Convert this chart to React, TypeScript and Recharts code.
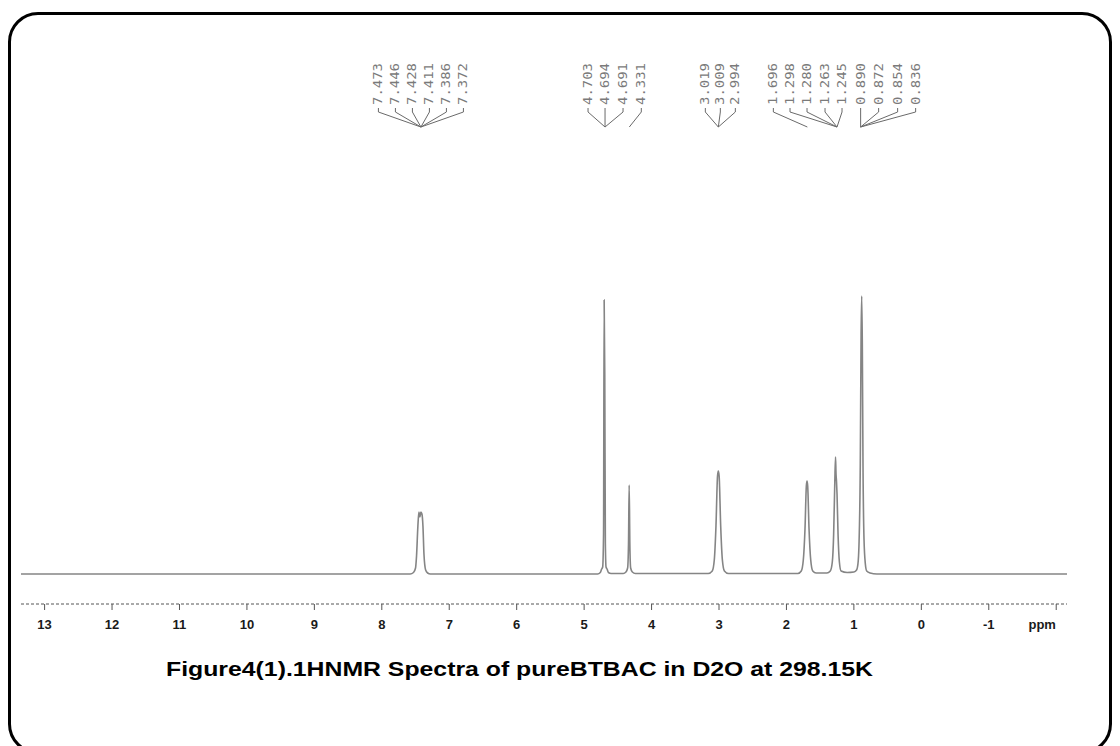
import React from "react";
import { LineChart, Line, XAxis, YAxis, ReferenceDot } from "recharts";

// spectrum points (ppm, intensity), high ppm first
const PPM = [
  13.35, 7.58, 7.53, 7.5, 7.485, 7.465, 7.45, 7.435, 7.42, 7.405, 7.39, 7.375, 7.35, 7.32, 7.28,
  4.8, 4.76, 4.74, 4.725, 4.712, 4.703, 4.694, 4.685, 4.675, 4.66, 4.64, 4.6,
  4.42, 4.38, 4.355, 4.342, 4.332, 4.322, 4.31, 4.285, 4.24,
  3.16, 3.1, 3.07, 3.045, 3.022, 3.01, 2.998, 2.975, 2.95, 2.92, 2.86,
  1.83, 1.78, 1.75, 1.725, 1.705, 1.695, 1.685, 1.665, 1.64, 1.61, 1.56,
  1.4, 1.35, 1.32, 1.3, 1.283, 1.272, 1.265, 1.258, 1.25, 1.235, 1.215, 1.19, 1.1,
  1.0, 0.96, 0.94, 0.925, 0.905, 0.893, 0.884, 0.875, 0.865, 0.85, 0.83, 0.81, 0.76, 0.66,
  -2.16,
];
const INTENSITY = [
  0, 0, 1.5, 6, 18, 48, 62, 57, 62, 60, 48, 20, 4, 1, 0,
  0, 1.5, 5, 7, 40, 274, 200, 30, 7, 5, 1.5, 0.5,
  0.5, 2, 6, 30, 89, 30, 6, 2, 0.5,
  0.5, 3, 14, 48, 98, 103, 98, 48, 14, 3, 0.5,
  0.5, 3, 14, 45, 88, 93, 88, 45, 14, 3, 1,
  1, 3, 12, 40, 92, 117, 100, 93, 80, 40, 12, 3, 1.5,
  2, 4, 10, 28, 110, 240, 278, 230, 110, 35, 10, 3, 1, 0,
  0,
];

const X_TICKS = [13, 12, 11, 10, 9, 8, 7, 6, 5, 4, 3, 2, 1, 0, -1, -2];

// peak pick labels: where each group's leader lines meet, and the labels
const GROUP_ANCHORS = [7.42, 4.69, 4.33, 3.01, 1.69, 1.25, 0.9];
const GROUP_LABELS = [
  ["7.473", "7.446", "7.428", "7.411", "7.386", "7.372"],
  ["4.703", "4.694", "4.691"],
  ["4.331"],
  ["3.019", "3.009", "2.994"],
  ["1.696"],
  ["1.298", "1.280", "1.263", "1.245"],
  ["0.890", "0.872", "0.854", "0.836"],
];
const LEADER_MEET = 447;

// horizontal offset (px) of every label column from its meeting point
const COL_OFFSETS = [
  [-42.5, -25.5, -8.5, 8.5, 25.5, 42.5],
  [-17, 0, 18],
  [12],
  [-13, 2, 17],
  [-34],
  [-47, -30, -12, 5],
  [0, 18, 37, 55],
];

const data = PPM.map((p, i) => ({ ppm: p, y: INTENSITY[i] }));

function PpmTick(props: any) {
  const { x, y, payload } = props;
  const isUnit = payload.value === -2;
  return (
    <text
      x={isUnit ? x - 14 : x}
      y={y + 17}
      textAnchor="middle"
      fontFamily="'Liberation Sans', Arial, sans-serif"
      fontWeight="bold"
      fontSize={13}
      fill="#1a1a1a"
    >
      {isUnit ? "ppm" : payload.value}
    </text>
  );
}

function LabelFan({ cx, cy, labels, offsets }: any) {
  return (
    <g>
      {labels.map((t: string, i: number) => {
        const lx = cx + offsets[i];
        const base = cy - 22;
        return (
          <g key={t}>
            <text
              x={lx}
              y={base}
              transform={`rotate(-90, ${lx}, ${base})`}
              dominantBaseline="central"
              fontFamily="'DejaVu Sans Mono', monospace"
              fontSize={12}
              fill="#7a7a7a"
              textLength={42}
              lengthAdjust="spacingAndGlyphs"
            >
              {t}
            </text>
            <path
              d={`M${lx},${cy - 19} L${lx},${cy - 15} L${cx},${cy}`}
              fill="none"
              stroke="#6a6a6a"
              strokeWidth={1}
            />
          </g>
        );
      })}
    </g>
  );
}

export default function App() {
  return (
    <div style={{ position: "absolute", left: 0, top: 0, width: 1120, height: 746, background: "#fff", overflow: "hidden" }}>
      <div
        style={{
          position: "absolute",
          left: 8,
          top: 12,
          width: 1104,
          height: 742,
          boxSizing: "border-box",
          border: "3px solid #000",
          borderRadius: 30,
        }}
      />
      <div style={{ position: "absolute", left: 0, top: 0 }}>
        <LineChart width={1120} height={746} data={data} margin={{ top: 34, right: 53, bottom: 102, left: 21 }}>
          <XAxis
            dataKey="ppm"
            type="number"
            domain={[-2.16, 13.35]}
            reversed
            ticks={X_TICKS}
            interval={0}
            allowDataOverflow
            height={40}
            tickSize={6}
            axisLine={{ stroke: "#555", strokeDasharray: "3 2" }}
            tickLine={{ stroke: "#555" }}
            tick={<PpmTick />}
          />
          <YAxis hide domain={[-30, 540]} type="number" allowDataOverflow />
          <Line
            type="monotone"
            dataKey="y"
            stroke="#858585"
            strokeWidth={1.6}
            dot={false}
            isAnimationActive={false}
          />
          {GROUP_ANCHORS.map((a, gi) => (
            <ReferenceDot
              key={a}
              x={a}
              y={LEADER_MEET}
              r={0}
              ifOverflow="visible"
              shape={(p: any) => (
                <LabelFan cx={p.cx} cy={p.cy} labels={GROUP_LABELS[gi]} offsets={COL_OFFSETS[gi]} />
              )}
            />
          ))}
        </LineChart>
      </div>
      <svg width={1120} height={746} style={{ position: "absolute", left: 0, top: 0, pointerEvents: "none" }}>
        <text
          x={166}
          y={676}
          fontFamily="'Liberation Sans', Arial, sans-serif"
          fontWeight="bold"
          fontSize={20}
          fill="#000"
          textLength={707}
          lengthAdjust="spacingAndGlyphs"
        >
          Figure4(1).1HNMR Spectra of pureBTBAC in D2O at 298.15K
        </text>
      </svg>
    </div>
  );
}
